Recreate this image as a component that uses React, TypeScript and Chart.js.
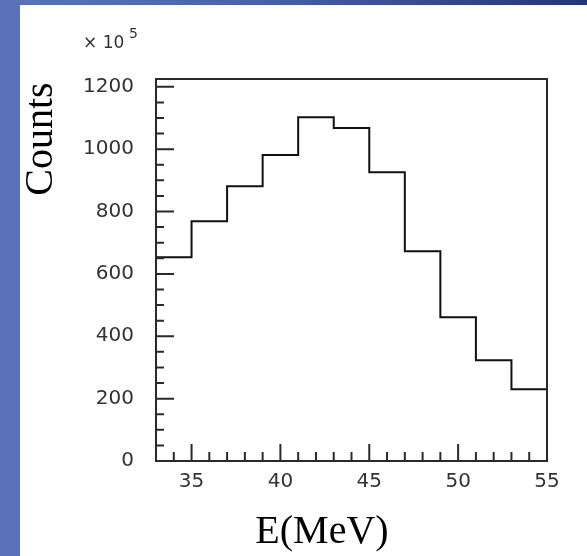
import React, { useEffect, useRef } from "react";
import { Chart, registerables } from "chart.js";

Chart.register(...registerables);

// Histogram: bin left edges (MeV), final edge, counts (x10^5)
const binStarts = [33, 35, 37, 39, 41, 43, 45, 47, 49, 51, 53];
const binEnd = 55;
const counts = [653, 769, 881, 981, 1102, 1068, 926, 673, 461, 323, 230];

const yMajorTicks = [0, 200, 400, 600, 800, 1000, 1200];
const yMinorTicks = [50, 100, 150, 250, 300, 350, 450, 500, 550, 650, 700, 750, 850, 900, 950, 1050, 1100, 1150];
const xMajorTicks = [35, 40, 45, 50, 55];
const xMinorTicks = [34, 36, 37, 38, 39, 41, 42, 43, 44, 46, 47, 48, 49, 51, 52, 53, 54];

const xTitle = "E(MeV)";
const yTitle = "Counts";

const W = 587;
const H = 556;

export default function App() {
  const ref = useRef<HTMLCanvasElement | null>(null);

  useEffect(() => {
    if (!ref.current) return;
    const points = binStarts.map((x, i) => ({ x, y: counts[i] }));
    points.push({ x: binEnd, y: counts[counts.length - 1] });

    const framePlugin = {
      id: "framePlugin",
      afterDraw(chart: any) {
        const { ctx, chartArea } = chart;
        const xs = chart.scales.x;
        const ys = chart.scales.y;
        ctx.save();
        ctx.strokeStyle = "#2a2a2a";
        ctx.lineWidth = 2;
        // frame top & right
        ctx.beginPath();
        ctx.moveTo(chartArea.left, chartArea.top);
        ctx.lineTo(chartArea.right, chartArea.top);
        ctx.lineTo(chartArea.right, chartArea.bottom);
        ctx.stroke();
        // inward ticks
        ctx.beginPath();
        yMajorTicks.forEach((v) => {
          const py = ys.getPixelForValue(v);
          ctx.moveTo(chartArea.left, py);
          ctx.lineTo(chartArea.left + 18, py);
        });
        yMinorTicks.forEach((v) => {
          const py = ys.getPixelForValue(v);
          ctx.moveTo(chartArea.left, py);
          ctx.lineTo(chartArea.left + 8, py);
        });
        xMajorTicks.forEach((v) => {
          const px = xs.getPixelForValue(v);
          ctx.moveTo(px, chartArea.bottom);
          ctx.lineTo(px, chartArea.bottom - 17);
        });
        xMinorTicks.forEach((v) => {
          const px = xs.getPixelForValue(v);
          ctx.moveTo(px, chartArea.bottom);
          ctx.lineTo(px, chartArea.bottom - 9);
        });
        ctx.stroke();

        // multiplier label
        ctx.fillStyle = "#333333";
        ctx.font = "17px 'DejaVu Sans'";
        ctx.textBaseline = "middle";
        ctx.textAlign = "left";
        ctx.fillText("\u00d7 10", 83, 44);
        ctx.font = "14px 'DejaVu Sans'";
        ctx.fillText("5", 129, 34);

        // axis titles
        ctx.fillStyle = "#000000";
        ctx.font = "40px 'Liberation Serif'";
        ctx.textAlign = "center";
        ctx.textBaseline = "alphabetic";
        ctx.fillText(xTitle, 322, 543);
        ctx.save();
        ctx.translate(52, 139);
        ctx.rotate(-Math.PI / 2);
        ctx.fillText(yTitle, 0, 0);
        ctx.restore();
        ctx.restore();
      },
    };

    const chart = new Chart(ref.current, {
      type: "line",
      data: {
        datasets: [
          {
            data: points,
            stepped: "before",
            borderColor: "#111111",
            borderWidth: 2,
            pointRadius: 0,
            fill: false,
          },
        ],
      },
      options: {
        animation: false,
        responsive: false,
        events: [],
        layout: { padding: { top: 79, right: 40, left: 0, bottom: 0 } },
        plugins: { legend: { display: false }, tooltip: { enabled: false } },
        scales: {
          x: {
            type: "linear",
            min: 33,
            max: 55,
            afterFit: (s: any) => {
              s.height = 95;
            },
            afterBuildTicks: (s: any) => {
              s.ticks = xMajorTicks.map((v) => ({ value: v }));
            },
            grid: { display: false, drawTicks: false },
            border: { display: true, color: "#2a2a2a", width: 2 },
            ticks: {
              padding: 9,
              color: "#333333",
              font: { family: "'DejaVu Sans'", size: 20 },
              maxRotation: 0,
              autoSkip: false,
              callback: (v: any) => String(v),
            },
          },
          y: {
            type: "linear",
            min: 0,
            max: 1225,
            afterFit: (s: any) => {
              s.width = 156;
            },
            afterBuildTicks: (s: any) => {
              s.ticks = yMajorTicks.map((v) => ({ value: v }));
            },
            grid: { display: false, drawTicks: false },
            border: { display: true, color: "#2a2a2a", width: 2 },
            ticks: {
              padding: 22,
              color: "#333333",
              font: { family: "'DejaVu Sans'", size: 20 },
              autoSkip: false,
              callback: (v: any) => String(v),
            },
          },
        },
      },
      plugins: [framePlugin],
    });
    return () => chart.destroy();
  }, []);

  return (
    <div
      style={{
        position: "fixed",
        left: 0,
        top: 0,
        width: W,
        height: H,
        background: "linear-gradient(90deg, #5a72b9 0%, #4a64ad 40%, #24357a 100%)",
      }}
    >
      <div style={{ position: "absolute", left: 0, top: 5, width: 20, height: H - 5, background: "#5a72b9" }} />
      <div style={{ position: "absolute", left: 20, top: 5, width: W - 20, height: H - 5, background: "#ffffff" }} />
      <canvas ref={ref} width={W} height={H} style={{ position: "absolute", left: 0, top: 0, width: W, height: H }} />
    </div>
  );
}
